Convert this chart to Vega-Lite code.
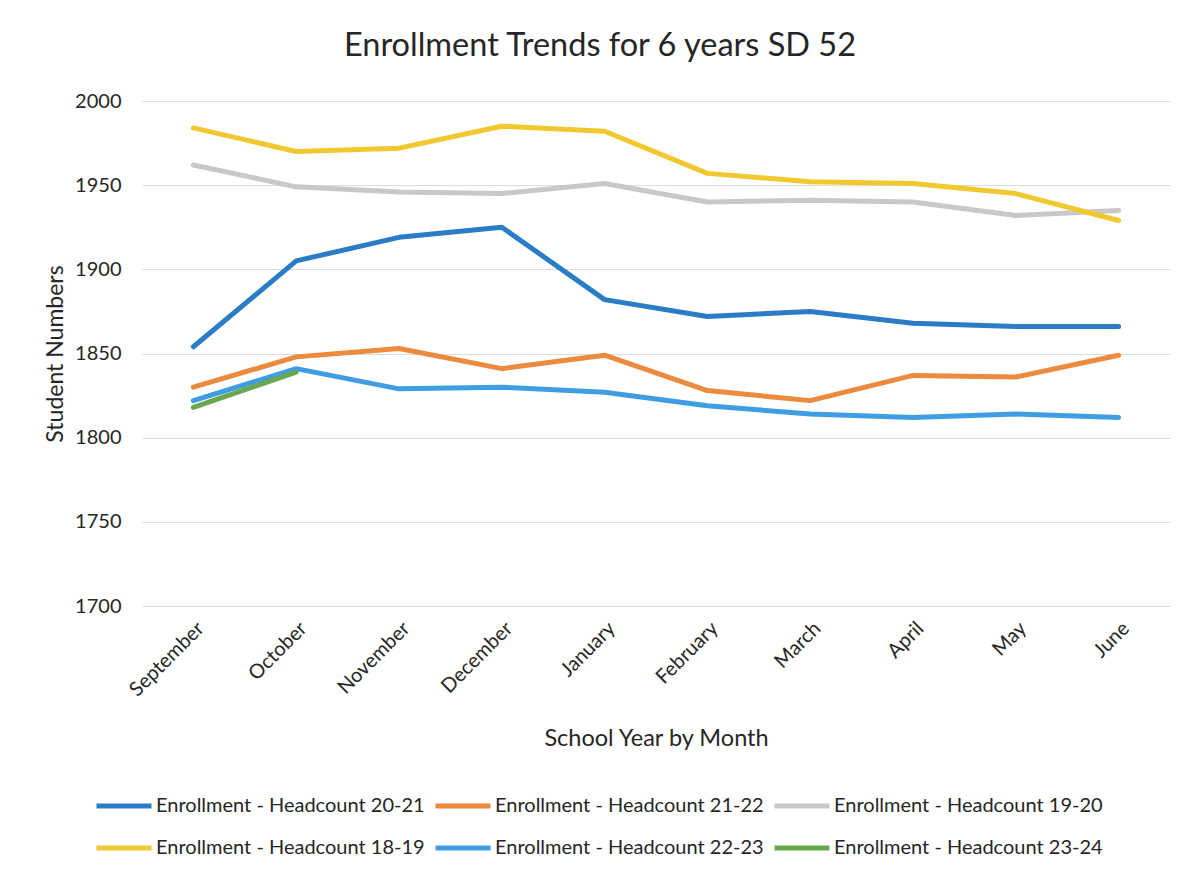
{
  "$schema": "https://vega.github.io/schema/vega-lite/v6.json",
  "width": 1028,
  "height": 505,
  "autosize": "none",
  "padding": {"left": 142, "top": 101, "right": 27, "bottom": 275},
  "background": "white",
  "title": {
    "text": "Enrollment Trends for 6 years SD 52",
    "font": "Lato",
    "fontSize": 32.5,
    "fontWeight": "normal",
    "color": "#262626",
    "anchor": "middle",
    "dx": -56,
    "offset": 29
  },
  "config": {"view": {"stroke": null}, "font": "Lato"},
  "data": {
    "values": [
      {"series": "Enrollment - Headcount 20-21", "month": "September", "students": 1854},
      {"series": "Enrollment - Headcount 20-21", "month": "October", "students": 1905},
      {"series": "Enrollment - Headcount 20-21", "month": "November", "students": 1919},
      {"series": "Enrollment - Headcount 20-21", "month": "December", "students": 1925},
      {"series": "Enrollment - Headcount 20-21", "month": "January", "students": 1882},
      {"series": "Enrollment - Headcount 20-21", "month": "February", "students": 1872},
      {"series": "Enrollment - Headcount 20-21", "month": "March", "students": 1875},
      {"series": "Enrollment - Headcount 20-21", "month": "April", "students": 1868},
      {"series": "Enrollment - Headcount 20-21", "month": "May", "students": 1866},
      {"series": "Enrollment - Headcount 20-21", "month": "June", "students": 1866},
      {"series": "Enrollment - Headcount 21-22", "month": "September", "students": 1830},
      {"series": "Enrollment - Headcount 21-22", "month": "October", "students": 1848},
      {"series": "Enrollment - Headcount 21-22", "month": "November", "students": 1853},
      {"series": "Enrollment - Headcount 21-22", "month": "December", "students": 1841},
      {"series": "Enrollment - Headcount 21-22", "month": "January", "students": 1849},
      {"series": "Enrollment - Headcount 21-22", "month": "February", "students": 1828},
      {"series": "Enrollment - Headcount 21-22", "month": "March", "students": 1822},
      {"series": "Enrollment - Headcount 21-22", "month": "April", "students": 1837},
      {"series": "Enrollment - Headcount 21-22", "month": "May", "students": 1836},
      {"series": "Enrollment - Headcount 21-22", "month": "June", "students": 1849},
      {"series": "Enrollment - Headcount 19-20", "month": "September", "students": 1962},
      {"series": "Enrollment - Headcount 19-20", "month": "October", "students": 1949},
      {"series": "Enrollment - Headcount 19-20", "month": "November", "students": 1946},
      {"series": "Enrollment - Headcount 19-20", "month": "December", "students": 1945},
      {"series": "Enrollment - Headcount 19-20", "month": "January", "students": 1951},
      {"series": "Enrollment - Headcount 19-20", "month": "February", "students": 1940},
      {"series": "Enrollment - Headcount 19-20", "month": "March", "students": 1941},
      {"series": "Enrollment - Headcount 19-20", "month": "April", "students": 1940},
      {"series": "Enrollment - Headcount 19-20", "month": "May", "students": 1932},
      {"series": "Enrollment - Headcount 19-20", "month": "June", "students": 1935},
      {"series": "Enrollment - Headcount 18-19", "month": "September", "students": 1984},
      {"series": "Enrollment - Headcount 18-19", "month": "October", "students": 1970},
      {"series": "Enrollment - Headcount 18-19", "month": "November", "students": 1972},
      {"series": "Enrollment - Headcount 18-19", "month": "December", "students": 1985},
      {"series": "Enrollment - Headcount 18-19", "month": "January", "students": 1982},
      {"series": "Enrollment - Headcount 18-19", "month": "February", "students": 1957},
      {"series": "Enrollment - Headcount 18-19", "month": "March", "students": 1952},
      {"series": "Enrollment - Headcount 18-19", "month": "April", "students": 1951},
      {"series": "Enrollment - Headcount 18-19", "month": "May", "students": 1945},
      {"series": "Enrollment - Headcount 18-19", "month": "June", "students": 1929},
      {"series": "Enrollment - Headcount 22-23", "month": "September", "students": 1822},
      {"series": "Enrollment - Headcount 22-23", "month": "October", "students": 1841},
      {"series": "Enrollment - Headcount 22-23", "month": "November", "students": 1829},
      {"series": "Enrollment - Headcount 22-23", "month": "December", "students": 1830},
      {"series": "Enrollment - Headcount 22-23", "month": "January", "students": 1827},
      {"series": "Enrollment - Headcount 22-23", "month": "February", "students": 1819},
      {"series": "Enrollment - Headcount 22-23", "month": "March", "students": 1814},
      {"series": "Enrollment - Headcount 22-23", "month": "April", "students": 1812},
      {"series": "Enrollment - Headcount 22-23", "month": "May", "students": 1814},
      {"series": "Enrollment - Headcount 22-23", "month": "June", "students": 1812},
      {"series": "Enrollment - Headcount 23-24", "month": "September", "students": 1818},
      {"series": "Enrollment - Headcount 23-24", "month": "October", "students": 1839}
    ]
  },
  "mark": {"type": "line", "strokeWidth": 5, "strokeCap": "round", "strokeJoin": "round"},
  "encoding": {
    "x": {
      "field": "month",
      "type": "ordinal",
      "sort": ["September", "October", "November", "December", "January", "February", "March", "April", "May", "June"],
      "axis": {
        "title": "School Year by Month",
        "titleFont": "Lato",
        "titleFontSize": 23.5,
        "titleFontWeight": "normal",
        "titleColor": "#262626",
        "titlePadding": 27,
        "labelAngle": -45,
        "labelFont": "Lato",
        "labelFontSize": 20,
        "labelColor": "#262626",
        "labelPadding": 12,
        "ticks": false,
        "domain": false,
        "grid": false
      }
    },
    "y": {
      "field": "students",
      "type": "quantitative",
      "scale": {"domain": [1700, 2000], "zero": false, "nice": false},
      "axis": {
        "title": "Student Numbers",
        "titleFont": "Lato",
        "titleFontSize": 23,
        "titleFontWeight": "normal",
        "titleColor": "#262626",
        "titlePadding": 7,
        "format": "d",
        "labelFont": "Lato",
        "labelFontSize": 20,
        "labelColor": "#262626",
        "labelPadding": 21,
        "values": [1700, 1750, 1800, 1850, 1900, 1950, 2000],
        "ticks": false,
        "domain": false,
        "gridColor": "#dcdcdc",
        "gridWidth": 1
      }
    },
    "color": {
      "field": "series",
      "type": "nominal",
      "scale": {
        "domain": ["Enrollment - Headcount 20-21", "Enrollment - Headcount 21-22", "Enrollment - Headcount 19-20", "Enrollment - Headcount 18-19", "Enrollment - Headcount 22-23", "Enrollment - Headcount 23-24"],
        "range": ["#2a7cc7", "#ec8a3e", "#c8c8c8", "#f2c830", "#3e9de3", "#6aa84f"]
      },
      "legend": {
        "title": null,
        "orient": "none",
        "legendX": -48,
        "legendY": 675,
        "columns": 3,
        "direction": "horizontal",
        "symbolType": "stroke",
        "symbolSize": 3025,
        "symbolStrokeWidth": 5,
        "labelFont": "Lato",
        "labelFontSize": 20,
        "labelColor": "#262626",
        "labelOffset": 2,
        "labelLimit": 400,
        "columnPadding": 0,
        "rowPadding": 2
      }
    }
  }
}
